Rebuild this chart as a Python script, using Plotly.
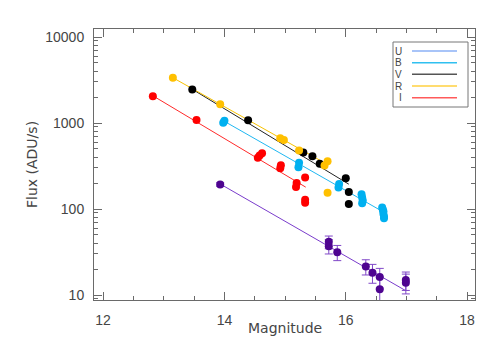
import numpy as np
import plotly.graph_objects as go

# ---------------- data ----------------
bands = ["U", "B", "V", "R", "I"]

u_mag = [13.93, 15.72, 15.72, 15.86, 16.33, 16.44, 16.56, 16.56, 16.99, 16.99]
u_flux = [193, 41.5, 37, 31.4, 21.4, 18.2, 16.2, 11.7, 14.9, 13.9]
u_err = [9, 7, 7, 6.3, 4.3, 4.5, 4.2, 4.5, 3.6, 3.6]

b_mag = [13.98, 14.00, 15.22, 15.23, 15.88, 15.89, 16.26, 16.27, 16.28, 16.27,
         16.60, 16.61, 16.62, 16.62, 16.63, 16.63]
b_flux = [1010, 1060, 305, 345, 178, 195, 148, 136, 126, 117,
          104, 99, 94, 88, 82, 78]

v_mag = [13.47, 14.39, 15.30, 15.45, 15.57, 16.00, 16.05, 16.05]
v_flux = [2450, 1080, 455, 410, 335, 228, 158, 114]

r_mag = [13.15, 13.93, 14.92, 14.98, 15.23, 15.70, 15.65, 15.70]
r_flux = [3350, 1650, 665, 635, 480, 360, 320, 155]

i_mag = [12.82, 13.54, 14.55, 14.58, 14.62, 14.92, 14.93, 15.18, 15.19, 15.33, 15.33, 15.33]
i_flux = [2050, 1085, 395, 420, 445, 298, 322, 180, 200, 232, 118, 128]

# linear fits: log10(flux) = fit_icpt + fit_slope * mag, drawn over [fit_lo, fit_hi]
fit_slope = [-0.4056, -0.402, -0.428, -0.396, -0.4217]
fit_icpt = [7.941, 8.647, 9.158, 8.734, 8.723]
fit_lo = [13.93, 13.99, 13.47, 13.15, 12.82]
fit_hi = [16.99, 16.61, 16.05, 15.65, 15.34]

x_ticks = [12, 14, 16, 18]
y_ticks = [10, 100, 1000, 10000]

# ---------------- style ----------------
mark_col = ["#4e0490", "#00b0f0", "#000000", "#ffc000", "#ff0000"]
line_col = ["#7a3ccc", "#20b8f2", "#222222", "#f7c200", "#ff2a2a"]
legend_col = ["#a8c4f8", "#30c0f0", "#555555", "#ffd040", "#ff5a5a"]

mags = [u_mag, b_mag, v_mag, r_mag, i_mag]
fluxes = [u_flux, b_flux, v_flux, r_flux, i_flux]

fig = go.Figure()

for k in range(5):
    xs = np.linspace(fit_lo[k], fit_hi[k], 50)
    ys = 10 ** (fit_icpt[k] + fit_slope[k] * xs)
    fig.add_trace(go.Scatter(x=xs, y=ys, mode="lines",
                             line=dict(color=line_col[k], width=1),
                             showlegend=False, hoverinfo="skip"))

for k in range(5):
    kw = {}
    if k == 0:
        kw["error_y"] = dict(type="data", array=u_err, visible=True,
                             color="#8048c8", thickness=1, width=4)
    fig.add_trace(go.Scatter(x=mags[k], y=fluxes[k], mode="markers",
                             marker=dict(color=mark_col[k], size=8, line=dict(width=0)),
                             showlegend=False, name=bands[k], **kw))

tick_font = dict(family="Liberation Sans", size=14, color="#454545")
axis_common = dict(showline=True, linecolor="#6a6a6a", linewidth=1, mirror="ticks",
                   ticks="inside", tickcolor="#6a6a6a", showgrid=False, zeroline=False,
                   tickfont=tick_font)

fig.update_xaxes(range=[11.85, 18.13], tickvals=x_ticks, ticklen=8,
                 ticklabelstandoff=7,
                 minor=dict(dtick=0.5, ticks="inside", ticklen=4, tickcolor="#6a6a6a"),
                 **axis_common)
fig.update_yaxes(type="log", range=[np.log10(8.75), np.log10(12390)],
                 tickvals=y_ticks, ticktext=[str(v) for v in y_ticks], ticklen=8,
                 ticklabelstandoff=6,
                 minor=dict(dtick="D1", ticks="inside", ticklen=4, tickcolor="#6a6a6a"),
                 **axis_common)


def px_to_paper(px, py):
    return (px - 94) / 381.0, (300 - py) / 271.0


title_font = dict(family="DejaVu Sans", size=14, color="#454545")
annotations = []
ax, ay = px_to_paper(284.5, 338)
annotations.append(dict(text="Magnitude", x=ax, y=ay, xref="paper", yref="paper",
                        showarrow=False, font=title_font))
bx, by = px_to_paper(22, 165)
annotations.append(dict(text="Flux (ADU/s)", x=bx, y=by, xref="paper", yref="paper",
                        showarrow=False, textangle=-90, font=title_font))

shapes = []
x0, y0 = px_to_paper(393, 107)
x1, y1 = px_to_paper(468, 42)
shapes.append(dict(type="rect", xref="paper", yref="paper", x0=x0, y0=y0, x1=x1, y1=y1,
                   line=dict(color="#777777", width=1), fillcolor="white", layer="above"))
rows = [51, 62.7, 74.3, 86, 97.7]
for k in range(5):
    lx0, ly = px_to_paper(412, rows[k])
    lx1, _ = px_to_paper(457, rows[k])
    shapes.append(dict(type="line", xref="paper", yref="paper", x0=lx0, x1=lx1, y0=ly, y1=ly,
                       line=dict(color=legend_col[k], width=1.5 if k else 2), layer="above"))
    tx, ty = px_to_paper(404, rows[k])
    annotations.append(dict(text=bands[k], x=tx, y=ty, xref="paper", yref="paper",
                            xanchor="right", yanchor="middle", showarrow=False,
                            font=dict(family="Liberation Sans", size=10, color="#444444")))

fig.update_layout(width=504, height=360, margin=dict(l=94, r=29, t=29, b=60),
                  plot_bgcolor="white", paper_bgcolor="white",
                  annotations=annotations, shapes=shapes, showlegend=False)

fig.write_html("out.html", config={"displayModeBar": False},
               post_script="document.body.style.margin='0';")
